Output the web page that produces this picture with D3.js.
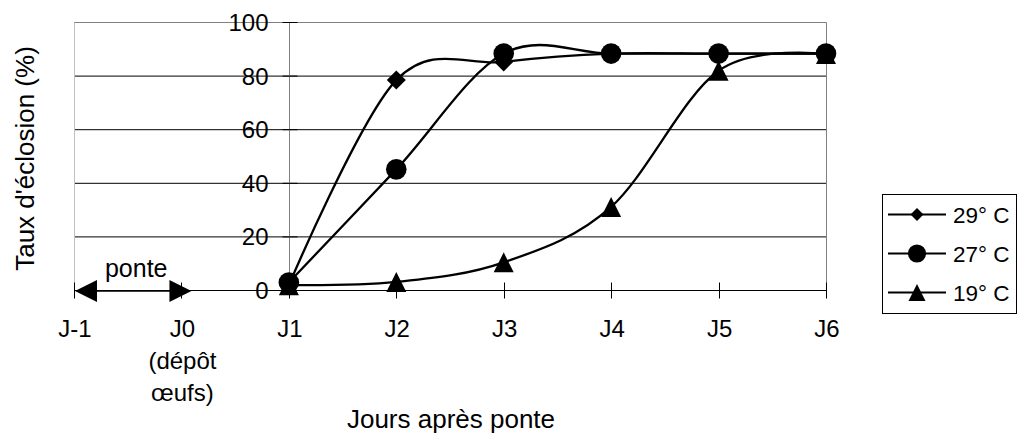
<!DOCTYPE html>
<html>
<head>
<meta charset="utf-8">
<script src="https://cdn.jsdelivr.net/npm/d3@7"></script>
<style>
  html, body { margin: 0; padding: 0; background: #fff; }
  svg { display: block; font-family: "Liberation Sans", Arial, sans-serif; }
</style>
</head>
<body>
<svg id="chart" width="1018" height="435"></svg>
<script>
// ---- data ----
const categories = ["J-1", "J0", "J1", "J2", "J3", "J4", "J5", "J6"];
const xTickLabels = [["J-1"], ["J0", "(dépôt", "œufs)"], ["J1"], ["J2"], ["J3"], ["J4"], ["J5"], ["J6"]];
const dataDays = ["J1", "J2", "J3", "J4", "J5", "J6"];
const s29 = [2, 78.5, 85.3, 88.4, 88.4, 88.4];
const s27 = [3, 45.2, 88.4, 88.4, 88.4, 88.4];
const s19 = [2, 3.2, 10.5, 31.2, 82, 88.2];
const seriesNames = ["29° C", "27° C", "19° C"];
const yTicks = [0, 20, 40, 60, 80, 100];
const yTitle = "Taux d'éclosion (%)";
const xTitle = "Jours après ponte";
const annotation = "ponte";

// ---- layout ----
const svg = d3.select("#chart");
const x = d3.scalePoint().domain(categories).range([74, 826]);
const y = d3.scaleLinear().domain([0, 100]).range([290.5, 22.5]);
const xAxisCat = "J1";

const g = svg.append("g");

// gridlines
g.selectAll("line.grid").data(yTicks.filter(d => d > 0 && d < 100)).join("line")
  .attr("x1", x("J-1")).attr("x2", x("J6"))
  .attr("y1", d => y(d)).attr("y2", d => y(d))
  .attr("stroke", "#000").attr("stroke-width", 1);

// plot border (top, right, left)
g.append("line").attr("x1", x("J-1")).attr("x2", x("J6") + 0.5).attr("y1", y(100)).attr("y2", y(100))
  .attr("stroke", "#808080").attr("stroke-width", 1);
g.append("line").attr("x1", x("J6") + 0.5).attr("x2", x("J6") + 0.5).attr("y1", y(100)).attr("y2", y(0))
  .attr("stroke", "#808080").attr("stroke-width", 1);
g.append("line").attr("x1", x("J-1") + 0.5).attr("x2", x("J-1") + 0.5).attr("y1", y(100)).attr("y2", y(0))
  .attr("stroke", "#c0c0c0").attr("stroke-width", 1);

// y axis at J1
const ax = Math.round(x(xAxisCat)) + 0.5;
g.append("line").attr("x1", ax).attr("x2", ax).attr("y1", y(100)).attr("y2", y(0))
  .attr("stroke", "#808080").attr("stroke-width", 1);
g.selectAll("line.ytick").data(yTicks).join("line")
  .attr("x1", ax - 7).attr("x2", ax + 8)
  .attr("y1", d => y(d)).attr("y2", d => y(d))
  .attr("stroke", "#000").attr("stroke-width", 1);
g.selectAll("text.ylab").data(yTicks).join("text")
  .attr("x", ax - 21).attr("y", d => y(d)).attr("dy", "0.35em")
  .attr("text-anchor", "end").attr("font-size", 24).attr("fill", "#000")
  .text(d => d);

// x axis
g.append("line").attr("x1", x("J-1")).attr("x2", x("J6") + 1).attr("y1", y(0)).attr("y2", y(0))
  .attr("stroke", "#000").attr("stroke-width", 1);
g.selectAll("line.xtick").data(categories).join("line")
  .attr("x1", d => Math.round(x(d)) + 0.5).attr("x2", d => Math.round(x(d)) + 0.5)
  .attr("y1", y(0) - 8).attr("y2", y(0) + 8)
  .attr("stroke", "#000").attr("stroke-width", 1);
const xl = g.selectAll("text.xlab").data(categories).join("text")
  .attr("text-anchor", "middle").attr("font-size", 24).attr("fill", "#000");
xl.each(function(d, i) {
  const t = d3.select(this);
  xTickLabels[i].forEach((line, j) => {
    t.append("tspan").attr("x", x(d) + 1).attr("y", 337 + j * 32).text(line);
  });
});

// axis titles
svg.append("text").attr("transform", `translate(34,${(y(0) + y(100)) / 2 + 2}) rotate(-90)`)
  .attr("text-anchor", "middle").attr("font-size", 26).attr("fill", "#000").text(yTitle);
svg.append("text").attr("x", (x("J-1") + x("J6")) / 2 + 1).attr("y", 428)
  .attr("text-anchor", "middle").attr("font-size", 26).attr("fill", "#000").text(xTitle);

// "ponte" annotation with double arrow
const a0 = x("J-1") + 1, a1 = x("J0") + 10, ay = y(0) + 0.5;
g.append("line").attr("x1", a0 + 10).attr("x2", a1 - 10).attr("y1", ay).attr("y2", ay)
  .attr("stroke", "#000").attr("stroke-width", 1.5);
g.append("path").attr("d", `M${a0},${ay} L${a0 + 22},${ay - 11} L${a0 + 22},${ay + 11} Z`).attr("fill", "#000");
g.append("path").attr("d", `M${a1},${ay} L${a1 - 22},${ay - 11} L${a1 - 22},${ay + 11} Z`).attr("fill", "#000");
svg.append("text").attr("x", (a0 + a1) / 2 + 3).attr("y", 277).attr("text-anchor", "middle")
  .attr("font-size", 25).attr("fill", "#000").text(annotation);

// ---- series ----
const line = d3.line().x(d => x(d[0])).y(d => y(d[1])).curve(d3.curveCardinal.tension(0));
const allSeries = [s29, s27, s19];
const shapes = ["diamond", "circle", "triangle"];

function drawMarker(sel, shape, cx, cy, scale) {
  const s = scale || 1;
  if (shape === "diamond") {
    const r = 9.5 * s;
    sel.append("path").attr("d", `M${cx},${cy - r} L${cx + r},${cy} L${cx},${cy + r} L${cx - r},${cy} Z`).attr("fill", "#000");
  } else if (shape === "circle") {
    sel.append("circle").attr("cx", cx).attr("cy", cy).attr("r", 10.3 * s).attr("fill", "#000");
  } else {
    const h = 10 * s;
    sel.append("path").attr("d", `M${cx},${cy - h} L${cx + h},${cy + h} L${cx - h},${cy + h} Z`).attr("fill", "#000");
  }
}

allSeries.forEach((vals, k) => {
  const pts = dataDays.map((d, i) => [d, vals[i]]);
  const sg = g.append("g");
  sg.append("path").attr("d", line(pts)).attr("fill", "none")
    .attr("stroke", "#000").attr("stroke-width", 2.3).attr("stroke-linejoin", "round");
  pts.forEach(p => drawMarker(sg, shapes[k], x(p[0]), y(p[1])));
});

// ---- legend ----
const lg = svg.append("g");
lg.append("rect").attr("x", 882.5).attr("y", 194.5).attr("width", 134).attr("height", 119)
  .attr("fill", "#fff").attr("stroke", "#000").attr("stroke-width", 1);
const legScale = [0.68, 0.88, 0.85];
seriesNames.forEach((name, k) => {
  const cy = 214.5 + k * 39;
  lg.append("line").attr("x1", 888).attr("x2", 946).attr("y1", cy).attr("y2", cy)
    .attr("stroke", "#000").attr("stroke-width", 2);
  drawMarker(lg, shapes[k], 917, cy, legScale[k]);
  lg.append("text").attr("x", 953).attr("y", cy + 8).attr("font-size", 22.5).attr("fill", "#000").text(name);
});
</script>
</body>
</html>
